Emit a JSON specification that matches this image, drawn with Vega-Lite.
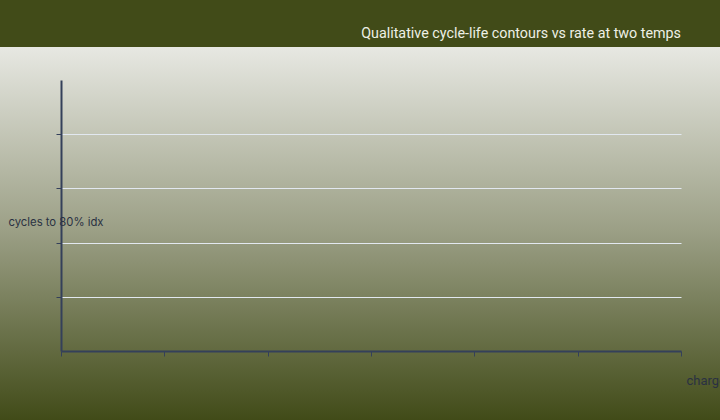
{
  "$schema": "https://vega.github.io/schema/vega-lite/v6.json",
  "width": 720,
  "height": 373,
  "autosize": "none",
  "padding": {"top": 47, "left": 0, "right": 0, "bottom": 0},
  "background": "#414b18",
  "title": {
    "text": "Qualitative cycle-life contours vs rate at two temps",
    "anchor": "end",
    "frame": "group",
    "orient": "top",
    "baseline": "middle",
    "offset": -1,
    "dx": -39,
    "font": "Roboto",
    "fontSize": 14.3,
    "fontWeight": "normal",
    "color": "#eef0e6"
  },
  "data": {"values": []},
  "mark": {"type": "line", "color": "#2f3a52"},
  "encoding": {
    "x": {
      "field": "rate",
      "type": "quantitative",
      "scale": {"domain": [0, 6], "range": [61, 681], "nice": false, "zero": false},
      "axis": {
        "title": "charge rate (C)",
        "offset": -69,
        "values": [0, 1, 2, 3, 4, 5, 6],
        "labels": false,
        "grid": false,
        "domainColor": "#34405a",
        "domainWidth": 2,
        "tickColor": "#34405a",
        "tickWidth": 1,
        "tickSize": 5,
        "titleX": 686,
        "titleY": 29,
        "titleAlign": "left",
        "titleAnchor": null,
        "titleBaseline": "middle",
        "titleFont": "Roboto",
        "titleFontSize": 13,
        "titleFontWeight": "normal",
        "titleColor": "#2a3142"
      }
    },
    "y": {
      "field": "cycles",
      "type": "quantitative",
      "scale": {"domain": [0, 5], "range": [304, 33], "nice": false, "zero": false},
      "axis": {
        "title": "cycles to 80% idx",
        "offset": -61,
        "values": [1, 2, 3, 4],
        "labels": false,
        "grid": true,
        "gridColor": "#e2e8f0",
        "gridWidth": 1,
        "domainColor": "#34405a",
        "domainWidth": 2,
        "tickColor": "#34405a",
        "tickWidth": 1,
        "tickSize": 5,
        "titleAngle": 0,
        "titleX": -53,
        "titleY": 175,
        "titleAlign": "left",
        "titleAnchor": null,
        "titleBaseline": "middle",
        "titleFont": "Inter",
        "titleFontSize": 11.3,
        "titleFontWeight": "normal",
        "titleColor": "#2a3142"
      }
    }
  },
  "config": {
    "view": {
      "stroke": null,
      "fill": {
        "gradient": "linear",
        "x1": 0, "y1": 0, "x2": 0, "y2": 1,
        "stops": [
          {"offset": 0, "color": "#e7e8e2"},
          {"offset": 0.5, "color": "#9a9e84"},
          {"offset": 1, "color": "#414b18"}
        ]
      }
    }
  }
}
